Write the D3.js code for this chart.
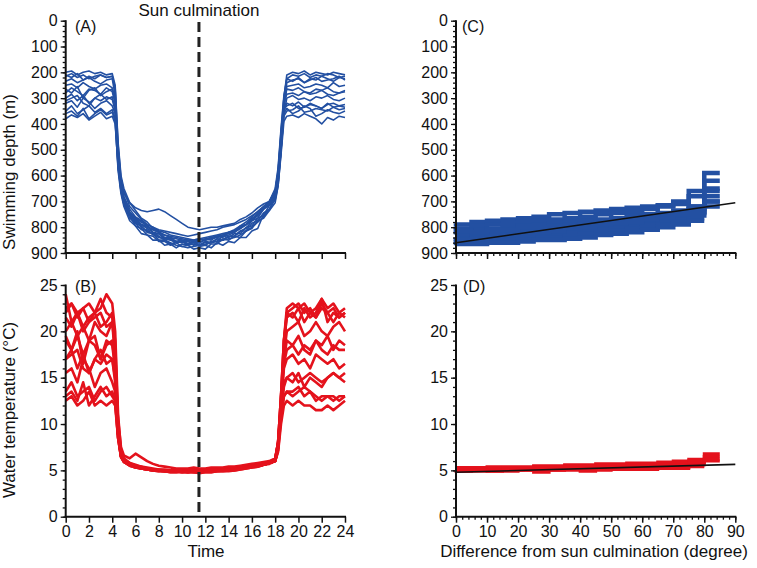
<!DOCTYPE html>
<html><head><meta charset="utf-8">
<script src="https://cdn.jsdelivr.net/npm/d3@7"></script>
<style>
html,body{margin:0;padding:0;background:#fff;}
svg text{font-family:"Liberation Sans",Arial,Helvetica,sans-serif;fill:#111;}
</style></head>
<body><svg id="c" width="757" height="568"></svg>
<script>
// ---------- DATA ----------
const times = [0,0.5,1,1.5,2,2.5,3,3.5,4,4.25,4.5,4.75,5,5.5,6,6.5,7,7.5,8,8.5,9,9.5,10,10.5,11,11.5,12,12.5,13,13.5,14,14.5,15,15.5,16,16.5,17,17.5,18,18.25,18.5,18.75,19,19.5,20,20.5,21,21.5,22,22.5,23,23.5,24];

const depthSeries = [
 [215,205,220,210,225,215,210,220,215,260,480,610,660,720,745,770,790,800,815,820,830,835,840,845,850,845,840,835,830,825,820,810,795,780,760,740,720,700,660,580,430,300,225,210,215,205,220,210,215,205,210,220,215],
 [235,225,240,230,220,235,245,230,225,290,520,640,690,745,765,790,795,820,825,845,845,860,855,870,865,872,858,860,845,850,835,835,815,805,775,765,730,715,675,620,480,330,240,230,225,240,230,220,235,230,225,215,230],
 [250,245,260,240,255,265,250,245,260,300,540,650,700,750,780,790,805,820,835,850,860,870,875,880,875,870,865,860,855,850,845,840,830,815,800,780,760,730,690,630,500,340,255,250,245,260,255,245,250,260,240,255,250],
 [280,260,275,290,265,270,285,260,275,320,500,620,670,705,725,735,740,735,730,740,755,770,785,800,805,810,805,800,800,795,790,785,770,760,745,725,710,700,670,600,470,320,265,270,260,275,280,265,270,260,275,280,270],
 [300,285,310,290,320,300,285,305,295,340,560,660,710,755,795,805,830,835,855,855,870,855,860,855,870,865,870,855,855,835,840,825,825,800,795,765,755,715,695,640,510,360,300,290,305,300,310,295,300,290,305,310,300],
 [320,310,335,300,315,340,320,310,330,360,520,630,680,730,760,775,790,800,810,815,820,825,830,835,830,825,820,815,810,800,795,790,780,770,755,740,720,700,660,590,450,340,330,320,340,335,325,330,340,320,335,330,325],
 [350,330,360,345,330,355,340,360,345,380,580,670,720,775,795,825,830,850,850,870,865,880,865,870,855,860,845,850,835,840,820,820,795,790,765,755,725,715,675,620,500,370,350,345,330,355,350,340,345,350,335,345,340],
 [380,365,375,360,385,370,355,380,370,400,560,650,700,745,785,795,820,825,850,850,865,860,875,870,885,880,885,865,865,845,850,835,840,815,805,775,765,735,705,640,520,390,370,365,375,360,370,380,400,375,385,370,375],
 [210,220,205,230,215,225,210,220,215,270,500,630,690,745,775,800,815,825,840,845,850,860,855,850,855,860,850,845,840,835,830,820,805,790,775,755,730,705,660,590,440,320,285,280,290,275,285,280,270,285,290,280,275],
 [265,280,255,300,270,260,290,275,265,310,530,640,690,740,765,780,795,810,820,830,835,840,845,850,855,850,845,840,835,830,820,815,805,790,770,750,730,710,680,610,470,350,320,330,315,335,320,330,340,325,320,330,335],
 [310,300,290,320,330,300,310,295,305,350,550,650,700,745,770,790,800,810,820,830,840,845,850,855,850,845,850,840,835,830,825,815,800,790,770,745,725,700,650,570,420,290,225,235,220,240,225,230,215,225,235,220,225],
 [360,350,370,340,380,360,345,365,355,390,570,660,710,765,785,810,810,830,825,845,845,860,855,865,855,870,855,860,845,850,835,835,815,815,785,775,745,730,685,630,500,360,340,360,350,330,340,370,360,345,355,360,350],
 [200,195,210,200,195,205,200,210,205,250,470,600,650,705,735,765,780,805,815,840,840,855,850,865,860,875,870,880,860,870,855,860,840,840,815,805,750,735,685,610,460,300,210,200,205,195,210,200,205,210,200,205,210]
];

const tempSeries = [
 [22,23,21.5,22.5,21,22,23.5,22,21.5,19,10,7,6.2,5.8,5.6,5.4,5.3,5.2,5.1,5.1,5.0,5.0,5.0,4.9,5.0,5.0,5.1,5.0,5.1,5.1,5.2,5.2,5.3,5.4,5.5,5.6,5.7,5.8,6.0,7.5,12,18,22,22.5,23,22,22.5,21.5,23,22,22.5,21.5,22],
 [24,21,22,20.5,21.5,22,20.5,21,22,18,9.5,6.8,6.0,5.7,5.5,5.3,5.2,5.1,5.0,5.0,4.9,4.9,4.9,4.8,4.9,4.9,5.0,5.0,5.0,5.1,5.1,5.2,5.3,5.4,5.5,5.6,5.7,5.8,6.1,8,13,19,21.5,22,21,22.5,21.5,22,23.5,21,22,21.5,22],
 [20,21,19.5,20.5,19,21,20,19.5,21,17,9,6.5,5.9,5.6,5.4,5.3,5.2,5.1,5.0,4.9,4.9,4.9,4.8,4.8,4.9,4.9,4.9,5.0,5.0,5.0,5.1,5.1,5.2,5.3,5.4,5.5,5.6,5.8,6.0,7.2,12,17.5,20,20.5,21,19.5,20,21,20,19.5,20.5,21,20],
 [19,18,19.5,17.5,19,18.5,17,19,18.5,16,10.5,7.5,6.6,6.3,6.8,6.4,6.0,5.7,5.5,5.4,5.3,5.2,5.2,5.2,5.3,5.2,5.2,5.3,5.3,5.3,5.4,5.4,5.5,5.6,5.7,5.8,5.9,6.0,6.3,8,13,17,19,18.5,19.5,18,17.5,19,18.5,19.5,18,19,18.5],
 [17,18,16,17.5,15.5,17,18,16.5,17,15,9,6.6,6.0,5.6,5.4,5.2,5.1,5.0,5.0,4.9,4.9,4.9,4.9,4.9,4.9,4.8,4.9,4.9,5.0,5.0,5.1,5.1,5.2,5.3,5.4,5.5,5.6,5.8,6.1,7.8,12,16,17,17.5,16.5,17,16,17.5,17,16.5,17,16,16.5],
 [15.5,16,14.5,17,16,14,15.5,16,14.5,13.5,9,6.8,6.1,5.7,5.5,5.3,5.2,5.1,5.1,5.0,5.0,5.0,5.0,5.0,5.0,5.0,5.0,5.1,5.1,5.1,5.2,5.2,5.3,5.4,5.5,5.6,5.8,5.9,6.2,8,11.5,14.5,15,15.5,14.5,15,15.5,15,14.5,15,15.5,15,15.5],
 [13.5,14.5,13,13.5,14,12.5,13.5,14,13,12.5,8.5,6.4,5.9,5.5,5.3,5.2,5.1,5.0,4.9,4.9,4.8,4.8,4.9,4.9,4.9,4.9,5.0,5.0,5.0,5.0,5.1,5.1,5.2,5.3,5.4,5.5,5.6,5.8,6.0,7.5,11,13,13.5,13.5,14,13,13.5,13,12.5,13,13,12.5,13],
 [12.5,13,12,12.5,13.5,12,12.5,12,12.5,12,8.5,6.5,6.0,5.6,5.3,5.2,5.1,5.0,4.9,4.9,4.8,4.8,4.8,4.8,4.8,4.7,4.8,4.8,4.9,4.9,5.0,5.0,5.1,5.2,5.3,5.4,5.6,5.7,6.0,7,10,12,12.5,12,12.5,12,12,11.5,11.5,12,11.5,12,12.5],
 [21.5,20.5,22,20,21,21.5,22,20.5,21,18,9.5,6.7,6.0,5.6,5.4,5.3,5.2,5.1,5.0,5.0,5.0,4.9,4.9,5.0,5.0,4.9,5.0,5.0,5.0,5.1,5.1,5.2,5.3,5.4,5.5,5.6,5.7,5.9,6.2,8,12,16.5,18,18.5,17.5,18.5,18,19,18,17.5,18.5,18,18],
 [19.5,18,20,16.5,19,19.5,17,18.5,19,16,9,6.6,6.0,5.6,5.4,5.3,5.2,5.1,5.0,5.0,4.9,4.9,4.9,4.9,4.9,4.9,5.0,5.0,5.0,5.0,5.1,5.1,5.2,5.3,5.4,5.5,5.7,5.8,6.0,7.5,11,14,15,14.5,15.5,14,15,14.5,14,15,15.5,15,14.5],
 [17,17.5,18,16,15.5,17,16.5,17.5,17,14.5,9,6.6,6.0,5.6,5.4,5.2,5.1,5.1,5.0,5.0,4.9,4.9,4.9,4.9,4.9,4.9,4.9,5.0,5.0,5.0,5.1,5.1,5.2,5.3,5.4,5.5,5.6,5.8,6.1,8,13,19,22,21.5,22.5,21,22,21.5,22.5,22,21,22,21.5],
 [13,13.5,12.5,14.5,12,13,14,13,13.5,12.5,8.5,6.5,5.9,5.5,5.3,5.2,5.1,5.0,5.0,4.9,4.9,4.9,4.8,4.9,4.8,4.8,4.9,4.9,4.9,5.0,5.0,5.1,5.2,5.3,5.4,5.5,5.6,5.8,6.0,7.2,10.5,13,13.5,13,13.5,14,13.5,12.5,13,13,12.5,13,13],
 [22.5,23,22,22.5,23,22,22.5,24,23,20,11,7.2,6.3,5.8,5.5,5.4,5.2,5.1,5.0,5.0,4.9,4.9,4.9,4.8,4.8,4.8,4.8,4.8,4.9,4.9,4.9,5.0,5.1,5.2,5.3,5.4,5.6,5.8,6.0,7.5,12.5,19,22.5,23,22.5,23,22,22.5,23.5,22.5,23,22,22.5]
];

const sunCulmination = 11.45;

const degrees = [0,5,10,15,20,25,30,35,40,45,50,55,60,65,70,75,80,85];
const depthByDegree = [
 [785,790,780,775,770,765,760,750,745,740,735,730,725,720,715,700,660,590],
 [800,805,795,790,785,780,775,770,765,760,750,745,740,730,720,710,680,620],
 [815,820,810,805,800,795,790,785,780,775,770,765,755,750,745,735,720,650],
 [830,830,825,820,815,810,805,800,795,790,785,775,770,765,755,745,730,680],
 [840,845,840,835,830,825,820,815,810,805,795,790,785,775,770,760,745,700],
 [850,855,850,845,840,835,830,825,820,815,810,800,795,790,780,770,755,720],
 [860,860,855,855,850,845,840,840,835,825,820,815,805,800,790,780,765],
 [870,865,865,860,860,855,850,850,845,840,830,825,820,810,800,790,775],
 [820,815,820,810,810,800,800,795,790,785,780,770,765,760,750,740,720,660],
 [855,850,845,840,830,830,820,815,805,800,790,785,780,770,760,750,740,700]
];
const tempByDegree = [
 [5.3,5.3,5.3,5.4,5.4,5.4,5.5,5.5,5.6,5.6,5.7,5.7,5.8,5.8,5.9,6.0,6.2,6.8],
 [5.2,5.2,5.2,5.2,5.3,5.3,5.4,5.4,5.4,5.5,5.5,5.6,5.6,5.7,5.7,5.8,6.0,6.5],
 [5.1,5.1,5.1,5.1,5.2,5.2,5.2,5.3,5.3,5.3,5.4,5.4,5.5,5.5,5.6,5.6,5.8,6.2],
 [5.0,5.0,5.0,5.0,5.1,5.1,5.1,5.1,5.2,5.2,5.2,5.3,5.3,5.4,5.4,5.5,5.6,6.0],
 [4.9,4.9,4.9,4.9,5.0,5.0,5.0,5.0,5.1,5.1,5.1,5.2,5.2,5.2,5.3,5.3,5.5],
 [5.0,4.9,5.0,4.9,4.9,5.0,4.8,5.0,5.0,4.9,5.0,5.1,5.1,5.1,5.2,5.2,5.4]
];
const depthFit = [[0,860],[90,705]];
const tempFit = [[0,4.8],[90,5.65]];

const timeTicks = [0,2,4,6,8,10,12,14,16,18,20,22,24];
const depthTicks = [0,100,200,300,400,500,600,700,800,900];
const tempTicks = [0,5,10,15,20,25];
const degreeTicks = [0,10,20,30,40,50,60,70,80,90];

// ---------- LAYOUT ----------
const svg = d3.select("#c");
const BLUE = "#2350a2", RED = "#e4121c";
const xT = d3.scaleLinear().domain([0,24]).range([65.7,345]);
const xD = d3.scaleLinear().domain([0,90]).range([456,735.3]);
const yDep = d3.scaleLinear().domain([0,900]).range([20.7,253]);
const yTmp = d3.scaleLinear().domain([0,25]).range([516.7,285]);

function yAxes(x, y, majors, minorStep, max) {
  const g = svg.append("g").attr("transform", `translate(${x.range()[0]},0)`);
  g.call(d3.axisLeft(y).tickValues(d3.range(0, max + 0.001, minorStep)).tickSize(3).tickFormat(""));
  const g2 = svg.append("g").attr("transform", `translate(${x.range()[0]},0)`);
  g2.call(d3.axisLeft(y).tickValues(majors).tickSize(5).tickPadding(3));
  [g, g2].forEach(a => { a.selectAll(".domain").remove(); a.selectAll("line").attr("stroke","#111").attr("stroke-width",1.3); });
  g2.selectAll("text").style("font-size","16px").attr("fill","#111");
  const r = y.range();
  svg.append("line").attr("x1", x.range()[0]).attr("x2", x.range()[0])
    .attr("y1", Math.min(r[0], r[1]) - 0.5).attr("y2", Math.max(r[0], r[1]) + 1)
    .attr("stroke","#111").attr("stroke-width",2);
}
function xAxes(x, yPos, majors, minorStep, labels) {
  if (minorStep) {
    const gm = svg.append("g").attr("transform", `translate(0,${yPos})`);
    gm.call(d3.axisBottom(x).tickValues(d3.range(x.domain()[0], x.domain()[1] + 0.001, minorStep)).tickSize(3).tickFormat(""));
    gm.selectAll(".domain").remove();
    gm.selectAll("line").attr("stroke","#111").attr("stroke-width",1.3);
  }
  const g = svg.append("g").attr("transform", `translate(0,${yPos})`);
  g.call(d3.axisBottom(x).tickValues(majors).tickSize(6).tickPadding(3).tickFormat(labels ? d3.format("d") : ""));
  g.selectAll(".domain").remove();
  g.selectAll("line").attr("stroke","#111").attr("stroke-width",1.5);
  g.selectAll("text").style("font-size","16px").attr("fill","#111");
  svg.append("line").attr("x1", x.range()[0]-1).attr("x2", x.range()[1]+1).attr("y1", yPos).attr("y2", yPos).attr("stroke","#111").attr("stroke-width",2);
}

// ---------- MARKS ----------
const lineA = d3.line().x((d,i) => xT(times[i])).y(d => yDep(d));
svg.append("g").selectAll("path").data(depthSeries).join("path")
  .attr("d", lineA).attr("fill","none").attr("stroke",BLUE).attr("stroke-width",1.6).attr("stroke-linejoin","round");

const lineB = d3.line().x((d,i) => xT(times[i])).y(d => yTmp(d));
svg.append("g").selectAll("path").data(tempSeries).join("path")
  .attr("d", lineB).attr("fill","none").attr("stroke",RED).attr("stroke-width",2.6).attr("stroke-linejoin","round");

const lineC = d3.line().x((d,i) => xD(degrees[i])).y(d => yDep(d)).curve(d3.curveStepBefore);
svg.append("g").selectAll("path").data(depthByDegree).join("path")
  .attr("d", lineC).attr("fill","none").attr("stroke",BLUE).attr("stroke-width",4.5);

const lineD = d3.line().x((d,i) => xD(degrees[i])).y(d => yTmp(d)).curve(d3.curveStepBefore);
svg.append("g").selectAll("path").data(tempByDegree).join("path")
  .attr("d", lineD).attr("fill","none").attr("stroke",RED).attr("stroke-width",3);

svg.append("path").attr("d", d3.line().x(d => xD(d[0])).y(d => yDep(d[1]))(depthFit)).attr("stroke","#111").attr("stroke-width",1.6).attr("fill","none");
svg.append("path").attr("d", d3.line().x(d => xD(d[0])).y(d => yTmp(d[1]))(tempFit)).attr("stroke","#111").attr("stroke-width",1.6).attr("fill","none");

// ---------- AXES ----------
yAxes(xT, yDep, depthTicks, 20, 900);
yAxes(xT, yTmp, tempTicks, 1, 25);
yAxes(xD, yDep, depthTicks, 20, 900);
yAxes(xD, yTmp, tempTicks, 1, 25);
xAxes(xT, 253, timeTicks, 0, false);
xAxes(xT, 516.7, timeTicks, 0, true);
xAxes(xD, 253, degreeTicks, 2, false);
xAxes(xD, 516.7, degreeTicks, 2, true);

// dashed culmination line
svg.append("line").attr("x1", xT(sunCulmination)).attr("x2", xT(sunCulmination))
  .attr("y1", 22).attr("y2", 517).attr("stroke","#222").attr("stroke-width",3).attr("stroke-dasharray","10,5");

// ---------- TEXT ----------
svg.append("text").attr("x", xT(sunCulmination)).attr("y", 16).attr("text-anchor","middle").style("font-size","17px").text("Sun culmination");
svg.append("text").attr("x", 75).attr("y", 32).style("font-size","16px").text("(A)");
svg.append("text").attr("x", 75).attr("y", 292).style("font-size","16px").text("(B)");
svg.append("text").attr("x", 462).attr("y", 32).style("font-size","16px").text("(C)");
svg.append("text").attr("x", 463).attr("y", 292).style("font-size","16px").text("(D)");
svg.append("text").attr("transform","translate(15,172) rotate(-90)").attr("text-anchor","middle").style("font-size","17px").text("Swimming depth (m)");
svg.append("text").attr("transform","translate(15,410) rotate(-90)").attr("text-anchor","middle").style("font-size","17px").text("Water temperature (°C)");
svg.append("text").attr("x", 206).attr("y", 557).attr("text-anchor","middle").style("font-size","17px").text("Time");
svg.append("text").attr("x", 594).attr("y", 557).attr("text-anchor","middle").style("font-size","17px").text("Difference from sun culmination (degree)");
</script></body></html>
